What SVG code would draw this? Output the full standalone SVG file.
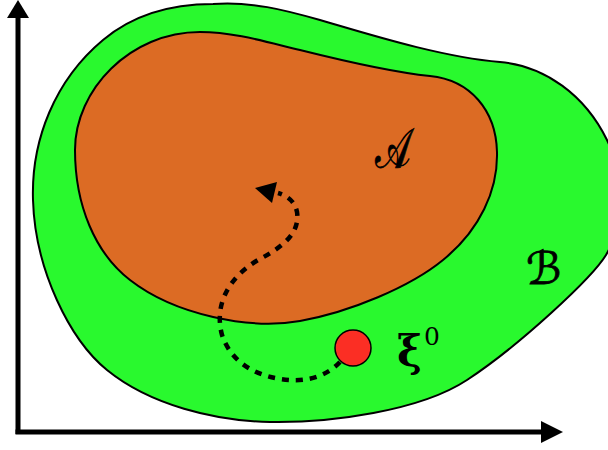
<svg xmlns="http://www.w3.org/2000/svg" width="608" height="450" viewBox="0 0 608 450">
<style>
.region{stroke:#000;stroke-width:2}
.lbl{font-family:"DejaVu Serif","Liberation Serif",serif;fill:#000}
.cal{font-family:"DejaVu Sans","Noto Sans",serif;fill:#000;stroke:#000;stroke-width:0.8}
.axis{stroke:#000;stroke-width:5;fill:none}
</style>
<g id="B">
<path class="region" fill="#29f92e" d="M213,4 C250,1 285,10 320,20 C365,33 440,57 500,62 C545,66 585,95 607,140 C618,163 630,215 606,255 C592,278 520,345 467,380 C420,411 330,423 270,422 C215,421 150,405 107,370 C70,340 35,270 33,200 C31,140 55,80 103,40 C135,13 175,4 213,4 Z"/>
<text class="cal" x="526" y="284" font-size="45">ℬ</text>
</g>
<g id="A">
<path class="region" fill="#dc6b24" d="M200,32 C235,32 270,43 300,50 C340,60 390,72 430,76 C470,80 496,110 497,152 C498,190 480,230 443,260 C410,287 350,312 300,321 C250,330 175,315 130,280 C95,253 75,205 75,150 C75,90 130,32 200,32 Z"/>
<text class="cal" transform="translate(375,168) scale(0.66,1)" x="0" y="0" font-size="57">𝒜</text>
</g>
<g id="xi0">
<circle cx="353" cy="348" r="18" fill="#fb2e24" stroke="#000" stroke-width="1.5"/>
<text class="lbl" x="397" y="366" font-size="42" font-weight="bold">ξ</text>
<text class="lbl" x="424" y="345" font-size="25">0</text>
</g>
<g id="connectors">
<line class="axis" x1="18" y1="434" x2="18" y2="15"/>
<polygon points="7,18 18,0 29,18" fill="#000"/>
<line class="axis" x1="15.5" y1="432" x2="545" y2="432"/>
<polygon points="541,421 563,432 541,443" fill="#000"/>
<path d="M340,362 C325,378 305,381 290,380 C260,378 232,365 222,335 C214,305 228,278 258,260 C285,246 300,232 297,212 C295,202 288,196 278,193" fill="none" stroke="#000" stroke-width="4.5" stroke-dasharray="7,7"/>
<polygon points="255,188 277,182 272,203" fill="#000"/>
</g>
</svg>
